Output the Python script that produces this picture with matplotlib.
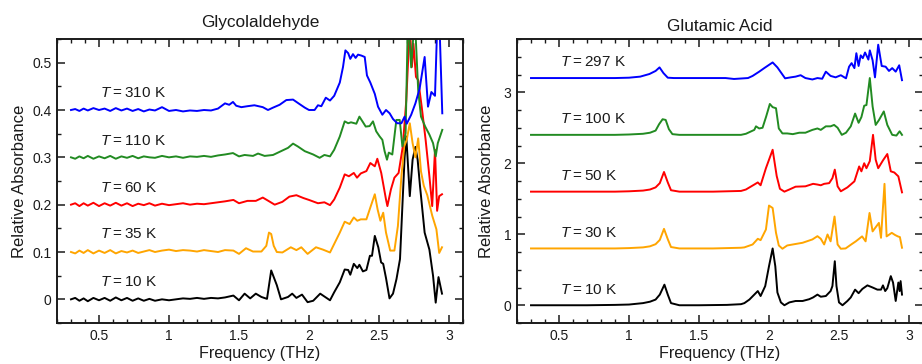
import matplotlib
matplotlib.use("Agg")
import matplotlib.pyplot as plt
from matplotlib.ticker import MultipleLocator, FuncFormatter

plt.rcParams['font.family'] = ['Liberation Sans', 'DejaVu Sans']
plt.rcParams['mathtext.fontset'] = 'custom'
plt.rcParams['mathtext.it'] = 'Liberation Sans:italic'
plt.rcParams['mathtext.rm'] = 'Liberation Sans'

# ---------------- Glycolaldehyde spectra (offset traces) ----------------
gly_base_f = [0.30, 0.33, 0.36, 0.39, 0.42, 0.46, 0.50, 0.54, 0.58, 0.62, 0.66, 0.70, 0.74, 0.78,
              0.82, 0.86, 0.90, 0.95, 1.00, 1.05, 1.10, 1.15, 1.20, 1.25, 1.30, 1.35, 1.40]

gly_10k_f = gly_base_f + [1.46, 1.50, 1.54, 1.58, 1.62, 1.66, 1.70, 1.73, 1.77, 1.80, 1.85, 1.88, 1.91,
                          1.95, 1.99, 2.03, 2.08, 2.11, 2.15, 2.18, 2.22, 2.255, 2.28, 2.295, 2.32, 2.345,
                          2.36, 2.385, 2.41, 2.435, 2.45, 2.47, 2.495, 2.515, 2.53, 2.55, 2.575, 2.60,
                          2.625, 2.65, 2.667, 2.683, 2.695, 2.72, 2.74, 2.76, 2.776, 2.793, 2.826, 2.86,
                          2.886, 2.905, 2.925, 2.95]
gly_10k_a = [0.000, 0.003, -0.003, 0.002, -0.004, 0.003, -0.002, 0.003, -0.003, 0.004, -0.002, 0.003,
             -0.003, 0.002, -0.003, 0.001, -0.003, 0.000, -0.002, 0.000, 0.002, 0.001, 0.003, 0.001,
             0.003, 0.002, 0.004,
             0.008, -0.002, 0.012, 0.002, 0.012, 0.005, 0.001, 0.061, 0.030, 0.000, 0.005, 0.012, 0.003,
             0.010, -0.006, -0.003, 0.012, 0.006, -0.002, 0.015, 0.036, 0.063, 0.062, 0.052, 0.075,
             0.066, 0.073, 0.059, 0.062, 0.092, 0.092, 0.134, 0.110, 0.078, 0.075, 0.045, 0.002, 0.012,
             0.043, 0.085, 0.197, 0.300, 0.344, 0.218, 0.295, 0.322, 0.295, 0.239, 0.141, 0.105, 0.050,
             -0.007, 0.047, 0.012]

gly_35k_f = gly_base_f + [1.46, 1.50, 1.55, 1.60, 1.66, 1.695, 1.714, 1.73, 1.748, 1.77, 1.81, 1.87,
                          1.91, 1.945, 1.99, 2.05, 2.10, 2.15, 2.18, 2.22, 2.255, 2.29, 2.32, 2.345, 2.37,
                          2.41, 2.438, 2.47, 2.49, 2.51, 2.53, 2.55, 2.58, 2.61, 2.635, 2.66, 2.68, 2.698,
                          2.72, 2.74, 2.76, 2.78, 2.80, 2.82, 2.845, 2.88, 2.91, 2.93, 2.95]
gly_35k_a = [0.100, 0.097, 0.103, 0.098, 0.104, 0.097, 0.103, 0.098, 0.104, 0.097, 0.102, 0.099, 0.103,
             0.098, 0.101, 0.104, 0.100, 0.103, 0.105, 0.102, 0.104, 0.103, 0.101, 0.104, 0.102, 0.100,
             0.104,
             0.103, 0.096, 0.108, 0.101, 0.101, 0.113, 0.141, 0.138, 0.113, 0.100, 0.099, 0.110, 0.104,
             0.110, 0.096, 0.110, 0.105, 0.099, 0.117, 0.141, 0.164, 0.159, 0.173, 0.166, 0.169, 0.169,
             0.194, 0.222, 0.190, 0.166, 0.183, 0.141, 0.103, 0.103, 0.155, 0.260, 0.323, 0.337, 0.372,
             0.330, 0.300, 0.340, 0.270, 0.240, 0.220, 0.177, 0.148, 0.098, 0.110]

gly_60k_f = gly_base_f + [1.46, 1.50, 1.56, 1.62, 1.67, 1.71, 1.755, 1.81, 1.86, 1.91, 1.96, 2.00, 2.064,
                          2.11, 2.15, 2.18, 2.22, 2.255, 2.285, 2.32, 2.343, 2.37, 2.41, 2.438, 2.47,
                          2.488, 2.516, 2.55, 2.56, 2.585, 2.61, 2.64, 2.67, 2.695, 2.72, 2.735, 2.746,
                          2.764, 2.78, 2.805, 2.833, 2.86, 2.88, 2.90, 2.915, 2.93, 2.95]
gly_60k_a = [0.200, 0.203, 0.197, 0.203, 0.198, 0.204, 0.197, 0.203, 0.198, 0.204, 0.198, 0.203, 0.197,
             0.202, 0.199, 0.203, 0.198, 0.202, 0.199, 0.201, 0.203, 0.200, 0.202, 0.201, 0.203, 0.205,
             0.207,
             0.210, 0.203, 0.208, 0.208, 0.215, 0.208, 0.200, 0.206, 0.217, 0.220, 0.214, 0.210, 0.203,
             0.205, 0.199, 0.211, 0.236, 0.264, 0.260, 0.267, 0.257, 0.266, 0.271, 0.288, 0.281, 0.297,
             0.267, 0.211, 0.197, 0.232, 0.257, 0.267, 0.323, 0.421, 0.580, 0.491, 0.540, 0.470, 0.463,
             0.407, 0.337, 0.260, 0.197, 0.316, 0.187, 0.218, 0.222]

gly_110k_f = gly_base_f + [1.457, 1.50, 1.54, 1.60, 1.636, 1.683, 1.743, 1.80, 1.85, 1.886, 1.92, 1.97,
                           2.03, 2.076, 2.11, 2.15, 2.18, 2.22, 2.255, 2.28, 2.30, 2.338, 2.36, 2.386,
                           2.405, 2.433, 2.457, 2.48, 2.505, 2.524, 2.54, 2.557, 2.57, 2.595, 2.624, 2.648,
                           2.667, 2.69, 2.707, 2.73, 2.755, 2.78, 2.80, 2.83, 2.86, 2.886, 2.905, 2.92,
                           2.952]
gly_110k_a = [0.300, 0.297, 0.302, 0.298, 0.303, 0.297, 0.302, 0.298, 0.303, 0.297, 0.302, 0.299, 0.303,
              0.298, 0.302, 0.300, 0.299, 0.303, 0.300, 0.302, 0.299, 0.302, 0.301, 0.303, 0.301, 0.304,
              0.306,
              0.309, 0.302, 0.305, 0.303, 0.308, 0.303, 0.305, 0.313, 0.320, 0.329, 0.323, 0.313, 0.306,
              0.299, 0.305, 0.302, 0.316, 0.344, 0.376, 0.372, 0.374, 0.371, 0.386, 0.374, 0.365, 0.366,
              0.376, 0.355, 0.344, 0.337, 0.313, 0.295, 0.310, 0.306, 0.379, 0.379, 0.323, 0.351, 0.600,
              0.490, 0.600, 0.442, 0.386, 0.365, 0.348, 0.330, 0.302, 0.330, 0.358]

gly_310k_f = gly_base_f + [1.43, 1.457, 1.48, 1.517, 1.56, 1.61, 1.67, 1.707, 1.743, 1.79, 1.838, 1.886,
                           1.93, 1.97, 2.00, 2.04, 2.064, 2.088, 2.12, 2.15, 2.18, 2.22, 2.243, 2.26, 2.28,
                           2.295, 2.314, 2.333, 2.35, 2.374, 2.398, 2.414, 2.438, 2.47, 2.493, 2.524, 2.55,
                           2.576, 2.60, 2.63, 2.66, 2.683, 2.698, 2.73, 2.76, 2.79, 2.826, 2.85, 2.874,
                           2.90, 2.918, 2.93, 2.952]
gly_310k_a = [0.400, 0.402, 0.398, 0.403, 0.399, 0.404, 0.400, 0.403, 0.398, 0.404, 0.399, 0.403, 0.398,
              0.402, 0.397, 0.401, 0.399, 0.406, 0.398, 0.400, 0.397, 0.399, 0.398, 0.400, 0.399, 0.403,
              0.414,
              0.411, 0.417, 0.409, 0.406, 0.408, 0.410, 0.406, 0.400, 0.405, 0.411, 0.421, 0.422, 0.413,
              0.405, 0.400, 0.400, 0.410, 0.408, 0.426, 0.420, 0.430, 0.458, 0.491, 0.526, 0.520, 0.508,
              0.518, 0.510, 0.517, 0.515, 0.512, 0.473, 0.458, 0.434, 0.407, 0.390, 0.400, 0.393, 0.381,
              0.372, 0.372, 0.386, 0.371, 0.390, 0.414, 0.445, 0.512, 0.407, 0.438, 0.430, 0.600, 0.600,
              0.393]

# ---------------- Glutamic acid spectra ----------------
glu_10k_f = [0.30, 0.50, 0.70, 0.90, 1.00, 1.10, 1.15, 1.19, 1.22, 1.253, 1.277, 1.30, 1.36, 1.50, 1.70,
             1.80, 1.824, 1.86, 1.895, 1.92, 1.94, 1.973, 2.00, 2.026, 2.045, 2.06, 2.085, 2.11, 2.145,
             2.19, 2.24, 2.287, 2.315, 2.346, 2.37, 2.406, 2.44, 2.453, 2.47, 2.482, 2.50, 2.525, 2.56,
             2.584, 2.615, 2.64, 2.667, 2.703, 2.74, 2.774, 2.80, 2.814, 2.83, 2.845, 2.87, 2.886, 2.905,
             2.924, 2.933, 2.94, 2.95]
glu_10k_a = [0.0, 0.0, 0.0, 0.005, 0.01, 0.03, 0.05, 0.08, 0.15, 0.29, 0.15, 0.03, 0.0, 0.0, 0.005,
             0.015, 0.03, 0.08, 0.15, 0.2, 0.13, 0.27, 0.55, 0.8, 0.55, 0.18, 0.04, 0.0, 0.04, 0.06,
             0.06, 0.085, 0.11, 0.15, 0.12, 0.13, 0.2, 0.27, 0.62, 0.27, 0.04, 0.0, 0.06, 0.11, 0.22,
             0.17, 0.23, 0.28, 0.25, 0.22, 0.22, 0.28, 0.2, 0.24, 0.41, 0.32, 0.06, 0.32, 0.2, 0.34, 0.15]

glu_30k_f = [0.30, 0.60, 0.90, 1.00, 1.10, 1.15, 1.19, 1.22, 1.25, 1.277, 1.30, 1.36, 1.60, 1.80, 1.824,
             1.883, 1.92, 1.94, 1.978, 2.00, 2.026, 2.05, 2.07, 2.096, 2.13, 2.17, 2.24, 2.31, 2.346, 2.37,
             2.394, 2.418, 2.44, 2.468, 2.49, 2.513, 2.547, 2.59, 2.62, 2.665, 2.69, 2.718, 2.74, 2.785,
             2.80, 2.825, 2.84, 2.877, 2.90, 2.92, 2.935, 2.95]
glu_30k_a = [0.80, 0.80, 0.80, 0.805, 0.815, 0.83, 0.86, 0.92, 1.076, 0.93, 0.82, 0.80, 0.80, 0.81, 0.815,
             0.856, 0.936, 0.917, 1.067, 1.404, 1.37, 1.02, 0.842, 0.796, 0.842, 0.856, 0.88, 0.927, 0.973,
             0.936, 0.856, 0.997, 0.90, 1.25, 0.856, 0.796, 0.80, 0.86, 0.90, 0.97, 0.90, 1.30, 1.04, 1.16,
             0.95, 1.71, 0.97, 1.02, 0.99, 0.97, 0.96, 0.81]

glu_50k_f = [0.30, 0.60, 0.90, 1.00, 1.10, 1.15, 1.19, 1.22, 1.25, 1.277, 1.30, 1.36, 1.60, 1.80, 1.835,
             1.895, 1.92, 1.94, 1.978, 2.026, 2.055, 2.078, 2.11, 2.145, 2.19, 2.26, 2.315, 2.346, 2.37,
             2.394, 2.43, 2.453, 2.47, 2.49, 2.513, 2.56, 2.61, 2.644, 2.66, 2.68, 2.696, 2.72, 2.743,
             2.762, 2.78, 2.814, 2.845, 2.87, 2.895, 2.924, 2.95]
glu_50k_a = [1.60, 1.60, 1.60, 1.605, 1.615, 1.63, 1.66, 1.72, 1.877, 1.73, 1.62, 1.60, 1.60, 1.61, 1.63,
             1.70, 1.73, 1.69, 1.93, 2.19, 1.82, 1.64, 1.60, 1.63, 1.67, 1.675, 1.71, 1.70, 1.69, 1.71,
             1.72, 1.79, 1.91, 1.675, 1.605, 1.66, 1.745, 1.955, 1.886, 2.00, 1.93, 2.03, 2.40, 2.05,
             1.93, 2.04, 2.13, 1.886, 1.87, 1.815, 1.59]

glu_100k_f = [0.30, 0.60, 0.90, 1.00, 1.10, 1.15, 1.19, 1.215, 1.24, 1.262, 1.285, 1.31, 1.36, 1.60, 1.80,
              1.835, 1.895, 1.907, 1.93, 1.954, 1.98, 2.006, 2.026, 2.05, 2.07, 2.096, 2.13, 2.17, 2.216,
              2.26, 2.31, 2.346, 2.37, 2.406, 2.44, 2.465, 2.49, 2.52, 2.55, 2.584, 2.615, 2.64, 2.66,
              2.68, 2.696, 2.72, 2.74, 2.762, 2.786, 2.82, 2.845, 2.88, 2.91, 2.933, 2.95]
glu_100k_a = [2.40, 2.40, 2.40, 2.405, 2.415, 2.43, 2.46, 2.55, 2.62, 2.61, 2.48, 2.41, 2.40, 2.40, 2.40,
              2.415, 2.47, 2.52, 2.49, 2.50, 2.66, 2.835, 2.79, 2.775, 2.49, 2.42, 2.42, 2.41, 2.43, 2.43,
              2.47, 2.49, 2.47, 2.52, 2.52, 2.54, 2.50, 2.40, 2.43, 2.52, 2.70, 2.57, 2.65, 2.81, 2.82,
              3.20, 2.80, 2.54, 2.61, 2.73, 2.54, 2.40, 2.39, 2.45, 2.40]

glu_297k_f = [0.30, 0.60, 0.90, 1.00, 1.08, 1.146, 1.19, 1.218, 1.246, 1.277, 1.32, 1.50, 1.69, 1.75, 1.85,
              1.883, 1.93, 1.966, 2.026, 2.06, 2.115, 2.156, 2.19, 2.226, 2.26, 2.31, 2.346, 2.38, 2.406,
              2.44, 2.476, 2.513, 2.55, 2.572, 2.59, 2.61, 2.624, 2.64, 2.655, 2.67, 2.686, 2.71, 2.72,
              2.74, 2.757, 2.78, 2.805, 2.833, 2.857, 2.88, 2.905, 2.93, 2.95]
glu_297k_a = [3.20, 3.20, 3.20, 3.205, 3.22, 3.257, 3.30, 3.35, 3.27, 3.205, 3.20, 3.20, 3.20, 3.187, 3.20,
              3.23, 3.29, 3.34, 3.42, 3.35, 3.196, 3.21, 3.22, 3.24, 3.20, 3.18, 3.20, 3.19, 3.29, 3.23,
              3.21, 3.24, 3.196, 3.36, 3.41, 3.34, 3.55, 3.37, 3.52, 3.48, 3.56, 3.46, 3.59, 3.45, 3.21,
              3.67, 3.37, 3.36, 3.30, 3.34, 3.29, 3.38, 3.17]

colors = ['black', '#FFA500', '#FF0000', '#228B22', '#0000FF']

gly_series = [(gly_10k_f, gly_10k_a), (gly_35k_f, gly_35k_a), (gly_60k_f, gly_60k_a),
              (gly_110k_f, gly_110k_a), (gly_310k_f, gly_310k_a)]
gly_temps = [10, 35, 60, 110, 310]
gly_label_y = [0.037, 0.137, 0.236, 0.335, 0.436]

glu_series = [(glu_10k_f, glu_10k_a), (glu_30k_f, glu_30k_a), (glu_50k_f, glu_50k_a),
              (glu_100k_f, glu_100k_a), (glu_297k_f, glu_297k_a)]
glu_temps = [10, 30, 50, 100, 297]
glu_label_y = [0.22, 1.02, 1.82, 2.63, 3.42]

INK = '#1a1a1a'


def style_axes(ax, ymajor, yminor):
    ax.set_xlim(0.2, 3.1)
    ax.xaxis.set_major_locator(MultipleLocator(0.5))
    ax.xaxis.set_minor_locator(MultipleLocator(0.1))
    ax.yaxis.set_major_locator(MultipleLocator(ymajor))
    ax.yaxis.set_minor_locator(MultipleLocator(yminor))
    fmt = FuncFormatter(lambda v, p: '%g' % round(v, 3))
    ax.xaxis.set_major_formatter(fmt)
    ax.yaxis.set_major_formatter(fmt)
    ax.tick_params(which='both', direction='in', top=True, right=True, labelsize=10, colors=INK)
    ax.tick_params(which='major', length=5.5, width=1.1, pad=4)
    ax.tick_params(which='minor', length=3.2, width=1.0)
    for s in ax.spines.values():
        s.set_linewidth(1.4)
        s.set_color(INK)
    ax.set_xlabel('Frequency (THz)', fontsize=11.6, color=INK)
    ax.set_ylabel('Relative Absorbance', fontsize=12, color=INK)


def temp_label(t):
    # thin spaces around "=" as in the printed figure
    return '$T$\u2009=\u2009%d K' % t


fig = plt.figure(figsize=(9.22, 3.64), dpi=100)
ax1 = fig.add_axes([57 / 922, 41 / 364, 406 / 922, 284 / 364])
ax2 = fig.add_axes([517 / 922, 41 / 364, 406 / 922, 284 / 364])

for (f, a), c, t, ly in zip(gly_series, colors, gly_temps, gly_label_y):
    ax1.plot(f, a, color=c, lw=1.4)
    ax1.text(0.51, ly, temp_label(t), fontsize=11, ha='left', va='center', color=INK)
ax1.set_ylim(-0.05, 0.55)
style_axes(ax1, 0.1, 0.05)
ax1.set_title('Glycolaldehyde', fontsize=12.4, pad=9, color=INK)
ax1.yaxis.set_label_coords(-0.074, 0.5)
ax1.xaxis.set_label_coords(0.5, -0.082)

for (f, a), c, t, ly in zip(glu_series, colors, glu_temps, glu_label_y):
    ax2.plot(f, a, color=c, lw=1.4)
    ax2.text(0.51, ly, temp_label(t), fontsize=11, ha='left', va='center', color=INK)
ax2.set_ylim(-0.25, 3.75)
style_axes(ax2, 1, 0.25)
ax2.set_title('Glutamic Acid', fontsize=12.4, pad=6, color=INK)
ax2.yaxis.set_label_coords(-0.056, 0.5)
ax2.xaxis.set_label_coords(0.5, -0.082)

fig.savefig('out.png', dpi=100)
